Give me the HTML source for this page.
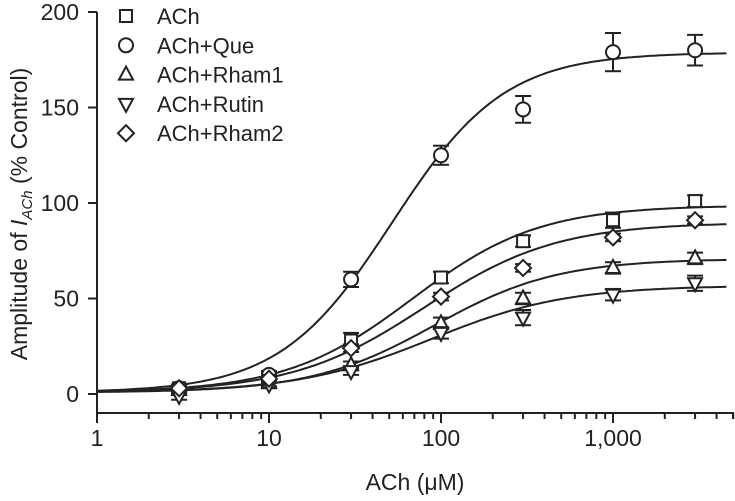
<!DOCTYPE html>
<html><head><meta charset="utf-8"><style>
html,body{margin:0;padding:0;background:#fff;}
svg{display:block;font-family:"Liberation Sans",sans-serif;}
</style></head><body>
<svg id="chart" width="735" height="501" viewBox="0 0 735 501"></svg>
<script>
const concs=[3,10,30,100,300,1000,3000];
const achVals=[3,9,28,61,80,91,101];
const achErr=[2,2,4,3,3,4,3];
const queVals=[3,10,60,125,149,179,180];
const queErr=[2,2,4,5,7,10,8];
const rham1Vals=[2,6,15,37,50,66,71];
const rham1Err=[2,2,2,3,3,3,3];
const rutinVals=[-1,5,12,32,40,52,58];
const rutinErr=[2,2,2,3,4,3,4];
const rham2Vals=[3,8,24,51,66,82,91];
const rham2Err=[2,2,2,2,2,2,2];
const seriesNames=["ACh","ACh+Que","ACh+Rham1","ACh+Rutin","ACh+Rham2"];
const seriesTop=[98,178,70,56,89];
const seriesEC50=[68,52,91,88,80];
const seriesHill=[1.18,1.33,1.21,1.11,1.13];
const yTicks=[0,50,100,150,200];
const xTicks=[1,10,100,1000];
const xTickLabels=["1","10","100","1,000"];

const NS="http://www.w3.org/2000/svg";
const svg=document.getElementById('chart');
const X0=97,DEC=172,Y0=394,YS=1.91;
const xs=v=>X0+Math.log10(v)*DEC;
const ys=v=>Y0-v*YS;
function mk(tag,attrs,parent){const e=document.createElementNS(NS,tag);for(const k in attrs)e.setAttribute(k,attrs[k]);(parent||svg).appendChild(e);return e;}

const ax=mk('g',{stroke:'#222','stroke-width':2,fill:'none'});


mk('line',{x1:X0,y1:12,x2:X0,y2:414},ax);
mk('line',{x1:X0,y1:413,x2:734,y2:413},ax);
yTicks.forEach(t=>{
  mk('line',{x1:X0-9,y1:ys(t),x2:X0,y2:ys(t)},ax);
  const tx=mk('text',{x:79,y:ys(t)+8,'text-anchor':'end','font-size':23,fill:'#222',stroke:'none'});
  
  
  tx.textContent=t;
});
for(let d=0;d<4;d++){for(let m=1;m<=9;m++){const v=Math.pow(10,d)*m;const x=xs(v);if(x>734)break;
  mk('line',{x1:x,y1:413,x2:x,y2:m==1?423:419},ax);}}
mk('line',{x1:733,y1:413,x2:733,y2:419},ax);
xTicks.forEach((t,i)=>{
  const tx=mk('text',{x:xs(t),y:446,'text-anchor':'middle','font-size':23,fill:'#222',stroke:'none'});
  
  
  tx.textContent=xTickLabels[i];
});
const xt=mk('text',{x:415,y:490,'text-anchor':'middle','font-size':23,fill:'#222'});


xt.textContent="ACh (\u03bcM)";
const yt=mk('text',{x:0,y:0,'text-anchor':'middle','font-size':23,fill:'#222',transform:'translate(27,214) rotate(-90)'});


yt.innerHTML='Amplitude of <tspan font-style="italic">I</tspan><tspan font-size="15" dy="5" font-style="italic">ACh</tspan><tspan dy="-5"> (% Control)</tspan>';

for(let s=0;s<5;s++){
  let d='';
  for(let i=0;i<=200;i++){const lx=i/200*3.66;const c=Math.pow(10,lx);
    const v=seriesTop[s]/(1+Math.pow(seriesEC50[s]/c,seriesHill[s]))+0.8;
    d+=(i?'L':'M')+xs(c).toFixed(1)+','+ys(v).toFixed(1);}
  const p=mk('path',{d:d,fill:'none',stroke:'#222','stroke-width':2});
  
  
}

function marker(shape,x,y,g){
  const a={fill:'#fff',stroke:'#222','stroke-width':2};
  if(shape==0)mk('rect',Object.assign({x:x-6,y:y-6,width:12,height:12},a),g);
  else if(shape==1)mk('circle',Object.assign({cx:x,cy:y,r:7},a),g);
  else if(shape==2)mk('polygon',Object.assign({points:`${x},${y-8} ${x+7},${y+5} ${x-7},${y+5}`},a),g);
  else if(shape==3)mk('polygon',Object.assign({points:`${x},${y+8} ${x+7},${y-5} ${x-7},${y-5}`},a),g);
  else mk('polygon',Object.assign({points:`${x},${y-8} ${x+8},${y} ${x},${y+8} ${x-8},${y}`},a),g);
}
const vals=[achVals,queVals,rham1Vals,rutinVals,rham2Vals];
const errs=[achErr,queErr,rham1Err,rutinErr,rham2Err];
for(let s=0;s<5;s++){
  const g=mk('g',{});
  
  
  concs.forEach((c,i)=>{
    const x=xs(c),y=ys(vals[s][i]),e=errs[s][i]*YS;
    const eg=mk('g',{stroke:'#222','stroke-width':2},g);
    mk('line',{x1:x,y1:y-e,x2:x,y2:y+e},eg);
    mk('line',{x1:x-8,y1:y-e,x2:x+8,y2:y-e},eg);
    mk('line',{x1:x-8,y1:y+e,x2:x+8,y2:y+e},eg);
    marker(s,x,y,g);
  });
}
seriesNames.forEach((n,i)=>{
  const g=mk('g',{});
  
  
  const y=16+i*29.3;
  marker(i,126,y,g);
  const t=mk('text',{x:157,y:y+8,'font-size':22,fill:'#222'},g);
  t.textContent=n;
});
</script>
</body></html>
